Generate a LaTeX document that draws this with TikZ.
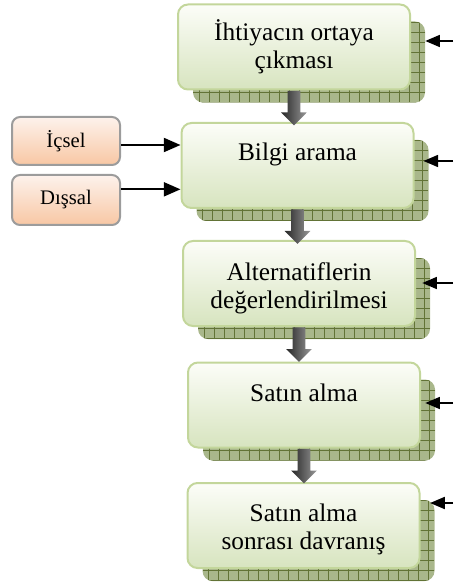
\documentclass[tikz,border=0pt]{standalone}
\usepackage{fontspec}
\setmainfont{Liberation Serif}
\usetikzlibrary{arrows.meta,positioning,shapes.arrows,calc}
\definecolor{cardline}{HTML}{C3D69B}
\definecolor{cardtop}{HTML}{FCFDF8}
\definecolor{cardbot}{HTML}{D7E4BF}
\definecolor{shadowfill}{HTML}{A9B78B}
\definecolor{shadowgrid}{HTML}{627336}
\definecolor{sidetop}{HTML}{FDF2EC}
\definecolor{sidebot}{HTML}{F8C7A4}
\definecolor{sideline}{HTML}{9C9C9C}
\tikzset{
  stagecard/.style={draw=cardline,top color=cardtop,bottom color=cardbot,
                    line width=1.5pt,rounded corners=7.5pt,align=center,
                    minimum width=174pt,minimum height=63.75pt,inner sep=0pt,
                    font=\fontsize{19}{21}\selectfont},
  onerow/.style={text height=13pt,text depth=#1},
  tworow/.style={text height=#1,text depth=4.5pt},
  gridshadow/.style={fill=shadowfill,rounded corners=7.5pt,inner sep=0pt,
                     minimum width=174pt,minimum height=60.75pt,
                     path picture={\draw[shadowgrid,line width=0.3pt,step=7.5pt]
                       (path picture bounding box.south west) grid
                       (path picture bounding box.north east);}},
  sidecard/.style={draw=sideline,top color=sidetop,bottom color=sidebot,
                   line width=1.5pt,rounded corners=6pt,inner sep=0pt,
                   minimum width=81pt,font=\fontsize{15.5}{18}\selectfont},
  downarr/.style={single arrow,rotate=-90,anchor=tail,inner sep=4.5pt,
                  left color=black!85,right color=black!40,
                  minimum height=26pt,single arrow head extend=5pt,
                  single arrow head indent=0pt},
  inarr/.style={-{Triangle[length=11pt,width=9pt]},line width=1.3pt},
  sidearr/.style={-{Triangle[length=12.5pt,width=10.5pt]},line width=1.5pt}
}
\begin{document}
\begin{tikzpicture}[x=0.75pt,y=-0.75pt]
  \useasboundingbox (0,0) rectangle (453,584);
  % shadows
  \node[gridshadow] (s1) at (309,62) {};
  \node[gridshadow] (s2) at (312.5,180.5) {};
  \node[gridshadow] (s3) at (314,298.5) {};
  \node[gridshadow] (s4) at (319,420) {};
  \node[gridshadow] (s5) at (318.5,540.5) {};
  % stages
  \node[stagecard] (ihtiyac) at (294,47) {İhtiyacın ortaya\\çıkması};
  \node[stagecard,onerow=19.8pt] (bilgi) at (297.5,165.5) {Bilgi arama};
  \node[stagecard,tworow=42pt] (alternatif) at (299,283.5)
    {Alternatiflerin\\değerlendirilmesi};
  \node[stagecard,onerow=19pt] (satin) at (304,405) {Satın alma};
  \node[stagecard,tworow=41pt] (sonrasi) at (303.5,525.5)
    {Satın alma\\sonrası davranış};
  \node[downarr] (d1) at (ihtiyac.south) {};
  \node[downarr] (d2) at (bilgi.south) {};
  \node[downarr] (d3) at (alternatif.south) {};
  \node[downarr] (d4) at (satin.south) {};
  % inner and outer sources
  \node[sidecard,minimum height=36pt] (icsel) at (66,141) {İçsel};
  \node[sidecard,minimum height=37.5pt] (dissal) at (66,200) {Dışsal};
  \draw[sidearr] ([yshift=-3pt]icsel.east) -- ([yshift=-3pt]icsel.east -| bilgi.west);
  \draw[sidearr] ([yshift=8pt]dissal.east) -- ([yshift=8pt]dissal.east -| bilgi.west);
  % arrows from the right edge
  \coordinate (r1) at (453,41);
  \coordinate (r2) at (453,161);
  \coordinate (r3) at (453,283);
  \coordinate (r4) at (453,403);
  \coordinate (r5) at (453,503);
  \draw[inarr] (r1) -- (r1 -| s1.east);
  \draw[inarr] (r2) -- ([xshift=-4pt]r2 -| s2.east);
  \draw[inarr] (r3) -- ([xshift=-6pt]r3 -| s3.east);
  \draw[inarr] (r4) -- ([xshift=-7.5pt]r4 -| s4.east);
  \draw[inarr] (r5) -- ([xshift=-3.5pt]r5 -| s5.east);
\end{tikzpicture}
\end{document}
